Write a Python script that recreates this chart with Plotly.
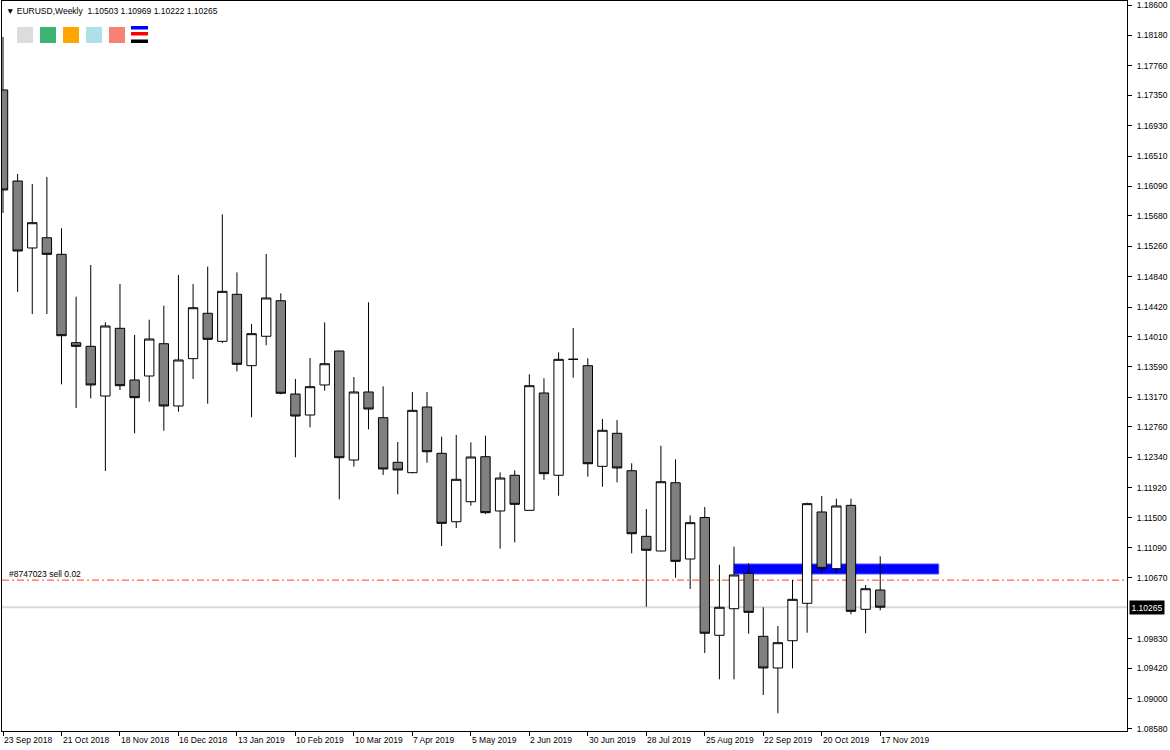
import pandas as pd
import plotly.graph_objects as go

# ---------------- data ----------------
start_date = "2018-09-23"
n_weeks = 61
opens = [1.17424, 1.16164, 1.15237, 1.15379, 1.15149, 1.13926, 1.13876, 1.13188, 1.14125, 1.13410,
         1.13465, 1.13912, 1.13050, 1.13705, 1.14333, 1.13945, 1.14596, 1.13608, 1.14015, 1.14507,
         1.13216, 1.12925, 1.13341, 1.13811, 1.12302, 1.13244, 1.12888, 1.12271, 1.12127, 1.13036,
         1.12395, 1.11448, 1.11725, 1.12348, 1.11597, 1.12091, 1.11606, 1.13230, 1.12091, 1.13696,
         1.13608, 1.12215, 1.12672, 1.12154, 1.11246, 1.11043, 1.11988, 1.10932, 1.11507, 1.09876,
         1.10244, 1.10734, 1.09862, 1.09424, 1.09801, 1.10319, 1.11583, 1.10798, 1.11675, 1.10236,
         1.10503]
highs = [1.18157, 1.16261, 1.16122, 1.16219, 1.15509, 1.14563, 1.15001, 1.14208, 1.14738, 1.14033,
         1.14244, 1.14438, 1.14863, 1.14738, 1.14978, 1.15703, 1.14900, 1.14185, 1.15154, 1.14610,
         1.13424, 1.13714, 1.14208, 1.13815, 1.13451, 1.14485, 1.13323, 1.12552, 1.13244, 1.13244,
         1.12625, 1.12649, 1.12547, 1.12639, 1.12132, 1.12160, 1.13489, 1.13433, 1.13793, 1.14129,
         1.13710, 1.12870, 1.12856, 1.12257, 1.11624, 1.12500, 1.12312, 1.11537, 1.11652, 1.10853,
         1.11102, 1.10873, 1.10264, 1.10005, 1.10641, 1.11711, 1.11804, 1.11767, 1.11767, 1.10572,
         1.10969]
lows = [1.15721, 1.14628, 1.14323, 1.14323, 1.13350, 1.13022, 1.13156, 1.12150, 1.13271, 1.12672,
        1.13109, 1.12708, 1.12971, 1.13424, 1.13082, 1.13922, 1.13530, 1.12893, 1.13890, 1.13212,
        1.12340, 1.12755, 1.13262, 1.11759, 1.12210, 1.12727, 1.12095, 1.11828, 1.12118, 1.12265,
        1.11112, 1.11361, 1.11670, 1.11555, 1.11075, 1.11163, 1.11600, 1.12026, 1.11808, 1.13442,
        1.12071, 1.11933, 1.11994, 1.11011, 1.10272, 1.11040, 1.10673, 1.10517, 1.09631, 1.09267,
        1.09267, 1.09898, 1.09050, 1.08797, 1.09419, 1.09912, 1.10734, 1.10734, 1.10167, 1.09904,
        1.10222]
closes = [1.16040, 1.15195, 1.15587, 1.15149, 1.14023, 1.13876, 1.13341, 1.14157, 1.13331, 1.13165,
          1.13977, 1.13050, 1.13687, 1.14410, 1.13973, 1.14637, 1.13627, 1.14051, 1.14545, 1.13226,
          1.12911, 1.13317, 1.13635, 1.12334, 1.13244, 1.13008, 1.12178, 1.12164, 1.12990, 1.12417,
          1.11426, 1.12035, 1.12344, 1.11573, 1.12053, 1.11689, 1.13331, 1.12113, 1.13696, 1.13696,
          1.12251, 1.12714, 1.12192, 1.11282, 1.11053, 1.12002, 1.10900, 1.11435, 1.09905, 1.10264,
          1.10711, 1.10194, 1.09424, 1.09774, 1.10374, 1.11698, 1.10803, 1.11666, 1.10208, 1.10521,
          1.10265]

price_ticks = [1.18600, 1.18180, 1.17760, 1.17350, 1.16930, 1.16510, 1.16090, 1.15680, 1.15260,
               1.14840, 1.14420, 1.14010, 1.13590, 1.13170, 1.12760, 1.12340, 1.11920, 1.11500,
               1.11090, 1.10670, 1.09830, 1.09420, 1.09000, 1.08580]
y_range = [1.085516, 1.186554]
x_view_weeks = [-0.07, 76.88]

symbol = "EURUSD,Weekly"
bid_price = 1.10265
order_price = 1.10640
order_text = "#8747023 sell 0.02"
zone_start_week = 50
zone_end_week = 64
zone_low = 1.10725
zone_high = 1.10863
button_colors = ["#DCDCDC", "#3CB371", "#FFA500", "#B0E0E6", "#FA8072"]

# ---------------- figure ----------------
dates = pd.date_range(start_date, periods=n_weeks, freq="7D")
t0 = pd.Timestamp(start_date)
week = pd.Timedelta(days=7)
x_range = [t0 + x_view_weeks[0] * week, t0 + x_view_weeks[1] * week]
tick_dates = list(dates[::4])

FONT = "Liberation Sans"
FS = 8.5

fig = go.Figure()
fig.add_trace(go.Candlestick(
    x=dates, open=opens, high=highs, low=lows, close=closes,
    increasing=dict(line=dict(color="#000000", width=1), fillcolor="#FFFFFF"),
    decreasing=dict(line=dict(color="#000000", width=1), fillcolor="#808080"),
    whiskerwidth=0, hoverinfo="skip", showlegend=False,
))

shapes = []
# zone rectangle
shapes.append(dict(type="rect", xref="x", yref="y", layer="below",
                   x0=t0 + zone_start_week * week, x1=t0 + zone_end_week * week,
                   y0=zone_low, y1=zone_high,
                   fillcolor="#0000FF", line=dict(color="#4A4AFF", width=1)))
# bid line
shapes.append(dict(type="line", xref="paper", yref="y", layer="below",
                   x0=0, x1=1, y0=bid_price, y1=bid_price,
                   line=dict(color="#D9D9D9", width=2)))
# order line
shapes.append(dict(type="line", xref="paper", yref="y", layer="below",
                   x0=0, x1=1, y0=order_price, y1=order_price,
                   line=dict(color="#FF4500", width=1, dash="7px,3px,2px,3px")))
# indicator buttons (pixel-sized, anchored to plot top-left)
for i, c in enumerate(button_colors):
    x0 = 15 + 23 * i
    shapes.append(dict(type="rect", xref="paper", yref="paper", xsizemode="pixel", ysizemode="pixel",
                       xanchor=0, yanchor=1, x0=x0, x1=x0 + 16, y0=-26, y1=-42,
                       fillcolor=c, line=dict(width=0)))
for (ya, yb, c) in [(-25, -28.5, "#0000FF"), (-31, -34.5, "#FF0000"), (-38.5, -42, "#000000")]:
    shapes.append(dict(type="rect", xref="paper", yref="paper", xsizemode="pixel", ysizemode="pixel",
                       xanchor=0, yanchor=1, x0=129, x1=146, y0=ya, y1=yb,
                       fillcolor=c, line=dict(width=0)))

annotations = []
annotations.append(dict(xref="paper", yref="paper", x=0, y=1, xanchor="left", yanchor="top",
                        xshift=2, yshift=-3, showarrow=False,
                        text="▼ " + symbol + "\u00a0\u00a0" + " ".join(f"{v:.5f}" for v in
                             [opens[-1], highs[-1], lows[-1], closes[-1]]),
                        font=dict(family=FONT, size=FS, color="#000000")))
annotations.append(dict(xref="paper", yref="y", x=0, y=order_price, xanchor="left", yanchor="bottom",
                        xshift=5, yshift=-1, showarrow=False, text=order_text,
                        font=dict(family=FONT, size=FS, color="#000000")))
annotations.append(dict(xref="paper", yref="y", x=1, y=bid_price, xanchor="left", yanchor="middle",
                        xshift=2, showarrow=False, text=f"{bid_price:.5f}", bgcolor="#000000",
                        borderpad=1.5, font=dict(family=FONT, size=FS, color="#FFFFFF")))
for d in tick_dates:
    annotations.append(dict(xref="x", yref="paper", x=d, y=0, xanchor="left", yanchor="top",
                            xshift=-1, yshift=-2, showarrow=False,
                            text=f"{d.day} {d.strftime('%b %Y')}",
                            font=dict(family=FONT, size=FS, color="#000000")))

fig.update_layout(
    width=1170, height=750,
    margin=dict(l=2, r=43, t=1, b=19),
    paper_bgcolor="#FFFFFF", plot_bgcolor="#FFFFFF",
    boxgap=0.2, boxgroupgap=0.2,
    showlegend=False,
    shapes=shapes, annotations=annotations,
    font=dict(family=FONT, size=FS, color="#000000"),
    xaxis=dict(type="date", range=x_range, rangeslider=dict(visible=False),
               showgrid=False, zeroline=False, showline=True, linecolor="#000000", linewidth=1,
               mirror=True, ticks="outside", ticklen=4, tickcolor="#000000",
               tickvals=tick_dates, showticklabels=False),
    yaxis=dict(side="right", range=y_range, showgrid=False, zeroline=False, showline=True,
               linecolor="#000000", linewidth=1, mirror=True, ticks="outside", ticklen=4,
               tickcolor="#000000", tickvals=price_ticks, tickformat=".5f",
               ticklabelstandoff=3, ticklabeloverflow="allow",
               tickfont=dict(family=FONT, size=FS, color="#000000")),
)

fig.write_html("out.html")
